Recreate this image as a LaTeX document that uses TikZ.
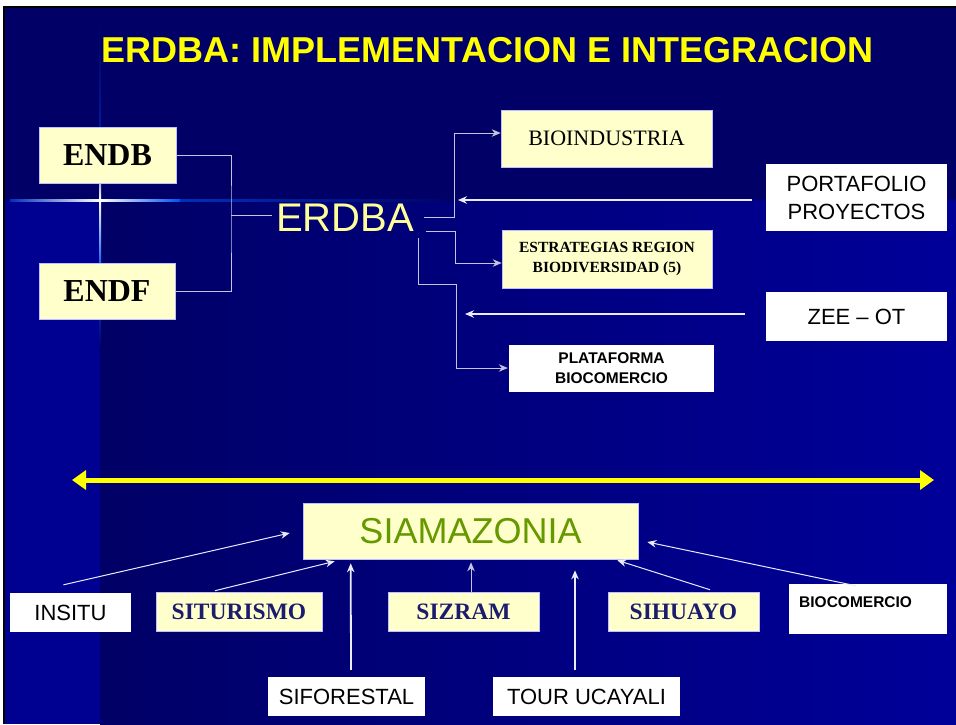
\documentclass[tikz,border=0pt]{standalone}
\usepackage{fontspec}
\setmainfont{Liberation Serif}
\setsansfont{Liberation Sans}
\usetikzlibrary{arrows.meta}

\definecolor{bgdark}{HTML}{000066}
\definecolor{bgblue}{HTML}{000099}
\definecolor{paleyel}{HTML}{FFFFCC}
\definecolor{titleyel}{HTML}{FFFF00}
\definecolor{erdbayel}{HTML}{FFFF99}
\definecolor{siagreen}{HTML}{669900}
\definecolor{navytext}{HTML}{1C1C6E}
\definecolor{wirecol}{HTML}{C4C4E0}
\definecolor{glow}{HTML}{0050F0}

\begin{document}
\begin{tikzpicture}[x=1pt, y=-1pt,
  block/.style={fill=paleyel, draw=white!75!blue, line width=0.6pt, inner sep=0pt, align=center},
  wbox/.style={fill=white, inner sep=0pt, align=center, font=\sffamily\fontsize{22}{28}\selectfont},
  sbox/.style={block, minimum height=39pt, text=navytext, font=\bfseries\fontsize{23.5}{26}\selectfont},
  wire/.style={draw=wirecol, line width=0.9pt},
  link/.style={draw=white!92!blue, line width=1pt, -{Stealth[length=9pt,width=7.5pt]}}]

  % Background
  \useasboundingbox (0,0) rectangle (956,724);
  \fill[white] (0,0) rectangle (956,724);
  \fill[black] (3,6) rectangle (956,724);
  \fill[bgdark] (5,8) rectangle (956,200);
  \shade[left color=bgdark, right color=bgblue] (100,200) rectangle (956,724);
  \fill[bgblue!85!bgdark] (5,200) rectangle (100,724);

  % Glow cross
  \shade[top color=bgdark, bottom color=glow!40!bgdark] (99,20) rectangle (101,150);
  \shade[top color=glow!40!bgdark, bottom color=white] (99,150) rectangle (101,200);
  \shade[top color=white, bottom color=glow] (99,200) rectangle (101,270);
  \shade[top color=glow, bottom color=bgdark] (99,270) rectangle (101,350);
  \shade[left color=glow!60!bgdark, right color=white] (10,199) rectangle (100,201.5);
  \shade[left color=white, right color=glow] (100,199) rectangle (180,201.5);
  \shade[left color=glow!60!bgdark, right color=bgdark] (180,199) rectangle (460,201);

  % Title
  \node[font=\sffamily\bfseries\fontsize{36}{40}\selectfont, text=titleyel, anchor=base] (title) at (487.5,62) {ERDBA: IMPLEMENTACION E INTEGRACION};

  % Left column
  \node[block, minimum width=137pt, minimum height=56pt, font=\bfseries\fontsize{32}{36}\selectfont] (endb) at (107.5,155) {ENDB};
  \node[block, minimum width=136pt, minimum height=56pt, font=\bfseries\fontsize{32}{36}\selectfont] (endf) at (107,291) {ENDF};
  \node[font=\sffamily\fontsize{40}{44}\selectfont, text=erdbayel, inner sep=0pt] (erdba) at (345,218) {ERDBA};
  \coordinate (join) at (231,215);

  % Right column
  \node[block, minimum width=211pt, minimum height=57pt, font=\fontsize{22}{26}\selectfont] (bioind) at (606.5,138.5) {BIOINDUSTRIA};
  \node[block, minimum width=210pt, minimum height=58pt, font=\bfseries\fontsize{15.5}{20}\selectfont] (estr) at (607,259) {ESTRATEGIAS REGION\\BIODIVERSIDAD (5)};
  \node[wbox, minimum width=205pt, minimum height=47pt, font=\sffamily\bfseries\fontsize{15.5}{20}\selectfont] (plat) at (611.5,368.5) {PLATAFORMA\\BIOCOMERCIO};
  \node[wbox, minimum width=181pt, minimum height=67pt] (port) at (856.5,197.5) {PORTAFOLIO\\PROYECTOS};
  \node[wbox, minimum width=181pt, minimum height=49pt] (zee) at (856.5,316.5) {ZEE -- OT};
  \coordinate (pin) at (458,200);
  \coordinate (zin) at (465,314);

  % Brackets
  \draw[wire] (endb.east) -| (join) |- (endf.east);
  \draw[wire] (join) -- ([xshift=-4pt,yshift=3pt]erdba.west);
  \coordinate (o1) at ([xshift=10pt,yshift=1pt]erdba.east);
  \coordinate (o2) at ([xshift=12pt,yshift=-13pt]erdba.east);
  \coordinate (o3) at ([xshift=4pt,yshift=-20pt]erdba.east);
  \draw[link, draw=wirecol] (o1) -- ++(30,0) |- ([yshift=5.5pt]bioind.west);
  \draw[link, draw=wirecol] (o2) -- ++(29,0) |- ([yshift=-4pt]estr.west);
  \draw[link, draw=wirecol] (o3) -- ++(0,46) -- ++(38,0) |- ([xshift=-1pt,yshift=0.5pt]plat.west);
  \draw[link, line width=1.4pt] ([xshift=-14pt,yshift=-2.5pt]port.west) -- (pin);
  \draw[link, line width=1.4pt] ([xshift=-21pt,yshift=2.5pt]zee.west) -- (zin);

  % Yellow double arrow
  \coordinate (yl) at (72,480);
  \coordinate (yr) at (934,480);
  \draw[titleyel, line width=5pt, {Triangle[width=19pt,length=14pt]}-{Triangle[width=19pt,length=14pt]}] (yl) -- (yr);

  % SIAMAZONIA and its sources
  \node[block, minimum width=335pt, minimum height=56pt, text=siagreen, font=\sffamily\fontsize{36}{40}\selectfont] (siam) at (470.5,531) {SIAMAZONIA};
  \node[wbox, minimum width=121pt, minimum height=39pt] (insitu) at (70.5,612.5) {INSITU};
  \node[sbox, minimum width=166pt] (situ) at (239,611.5) {SITURISMO};
  \node[sbox, minimum width=151pt] (sizram) at (463.5,611.5) {SIZRAM};
  \node[sbox, minimum width=151pt] (sihu) at (683.5,611.5) {SIHUAYO};
  \node[wbox, minimum width=158pt, minimum height=50pt] (bioc) at (868,609) {};
  \node[font=\sffamily\bfseries\fontsize{15.5}{18}\selectfont, anchor=base west, inner sep=0pt] (biocl) at (799,607) {BIOCOMERCIO};
  \node[wbox, minimum width=157pt, minimum height=39pt] (sifo) at (346.5,696.5) {SIFORESTAL};
  \node[wbox, minimum width=187pt, minimum height=39pt] (tour) at (586.5,696.5) {TOUR UCAYALI};

  \draw[link] ([xshift=-7pt,yshift=8pt]insitu.north) -- ([xshift=-13pt,yshift=-2pt]siam.west);
  \draw[link] ([xshift=-24pt,yshift=1pt]situ.north) -- ([xshift=32pt,yshift=-2pt]siam.south west);
  \draw[link, line width=1.8pt] ([xshift=4.5pt,yshift=7pt]sifo.north) -- ([xshift=48pt,yshift=-4pt]siam.south west);
  \draw[link, draw=wirecol] ([xshift=7.5pt]sizram.north) -- ([xshift=0.5pt,yshift=-3pt]siam.south);
  \draw[link, line width=1.5pt] ([xshift=-11.5pt,yshift=7pt]tour.north) -- ([xshift=104.5pt,yshift=-11pt]siam.south);
  \draw[link] ([xshift=26.5pt,yshift=2pt]sihu.north) -- ([xshift=-21pt,yshift=-1pt]siam.south east);
  \draw[link] ([xshift=-12pt,yshift=-2pt]bioc.north) -- ([xshift=9pt,yshift=-11pt]siam.east);

\end{tikzpicture}
\end{document}
